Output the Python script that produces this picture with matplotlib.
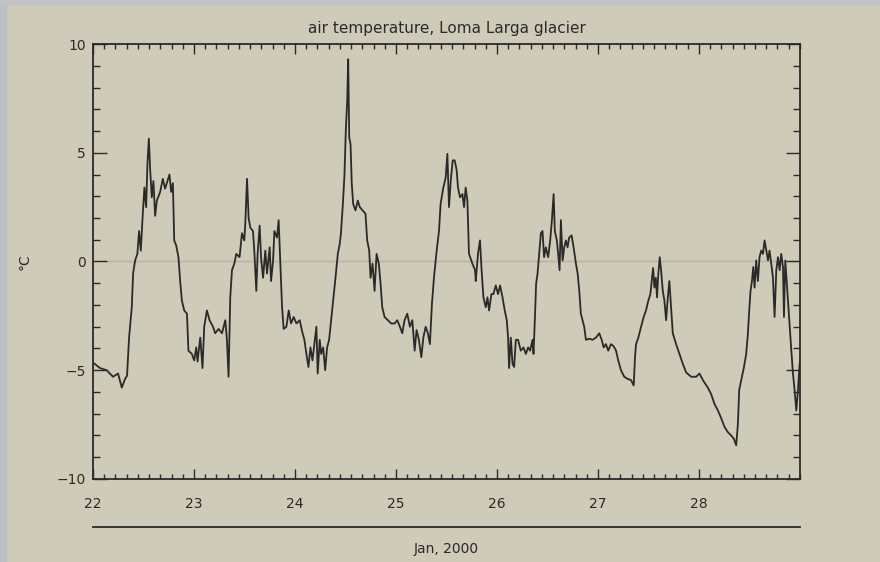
import matplotlib
matplotlib.use("Agg")
import matplotlib.pyplot as plt
from matplotlib.ticker import MultipleLocator
from matplotlib.patches import Rectangle

# air temperature record, day of January 2000 and deg C
day = [
    22.000, 22.069, 22.136, 22.198, 22.248, 22.285, 22.317, 22.337, 22.357, 22.384,
    22.397, 22.417, 22.439, 22.456, 22.473, 22.493, 22.509, 22.526, 22.539, 22.553,
    22.565, 22.582, 22.598, 22.615, 22.632, 22.665, 22.691, 22.714, 22.737, 22.757,
    22.774, 22.791, 22.804, 22.823, 22.846, 22.863, 22.880, 22.903, 22.930, 22.945,
    22.979, 23.002, 23.022, 23.035, 23.062, 23.084, 23.101, 23.128, 23.154, 23.188,
    23.210, 23.243, 23.277, 23.310, 23.326, 23.342, 23.359, 23.376, 23.399, 23.419,
    23.451, 23.475, 23.498, 23.508, 23.525, 23.541, 23.558, 23.584, 23.597, 23.617,
    23.630, 23.650, 23.664, 23.684, 23.706, 23.723, 23.749, 23.763, 23.783, 23.796,
    23.822, 23.838, 23.855, 23.872, 23.888, 23.915, 23.938, 23.961, 23.987, 24.014,
    24.047, 24.070, 24.093, 24.113, 24.133, 24.153, 24.173, 24.192, 24.212, 24.225,
    24.245, 24.259, 24.279, 24.299, 24.318, 24.338, 24.358, 24.378, 24.401, 24.424,
    24.443, 24.455, 24.475, 24.490, 24.503, 24.517, 24.527, 24.537, 24.550, 24.562,
    24.576, 24.599, 24.622, 24.642, 24.669, 24.698, 24.715, 24.735, 24.748, 24.768,
    24.788, 24.808, 24.830, 24.847, 24.864, 24.887, 24.920, 24.953, 24.986, 25.013,
    25.039, 25.062, 25.085, 25.112, 25.138, 25.162, 25.185, 25.204, 25.227, 25.251,
    25.271, 25.294, 25.316, 25.336, 25.356, 25.376, 25.403, 25.426, 25.442, 25.469,
    25.492, 25.509, 25.525, 25.542, 25.562, 25.581, 25.601, 25.614, 25.634, 25.658,
    25.674, 25.690, 25.707, 25.723, 25.757, 25.783, 25.790, 25.812, 25.832, 25.846,
    25.866, 25.889, 25.906, 25.922, 25.945, 25.965, 25.988, 26.011, 26.031, 26.055,
    26.077, 26.097, 26.110, 26.120, 26.137, 26.154, 26.170, 26.187, 26.209, 26.236,
    26.263, 26.286, 26.309, 26.328, 26.352, 26.362, 26.375, 26.388, 26.402, 26.418,
    26.435, 26.451, 26.467, 26.484, 26.507, 26.527, 26.544, 26.561, 26.573, 26.593,
    26.606, 26.620, 26.633, 26.650, 26.666, 26.683, 26.699, 26.715, 26.739, 26.759,
    26.782, 26.799, 26.815, 26.831, 26.848, 26.864, 26.881, 26.914, 26.947, 26.980,
    27.013, 27.037, 27.057, 27.079, 27.102, 27.129, 27.156, 27.179, 27.201, 27.228,
    27.261, 27.294, 27.327, 27.354, 27.367, 27.377, 27.400, 27.427, 27.453, 27.476,
    27.499, 27.519, 27.533, 27.546, 27.559, 27.573, 27.585, 27.598, 27.612, 27.625,
    27.642, 27.658, 27.675, 27.692, 27.707, 27.724, 27.741, 27.774, 27.807, 27.840,
    27.873, 27.923, 27.972, 28.005, 28.039, 28.088, 28.121, 28.154, 28.188, 28.220,
    28.253, 28.287, 28.319, 28.346, 28.369, 28.386, 28.399, 28.419, 28.446, 28.468,
    28.485, 28.498, 28.511, 28.525, 28.538, 28.551, 28.567, 28.584, 28.600, 28.617,
    28.634, 28.650, 28.667, 28.684, 28.699, 28.716, 28.733, 28.749, 28.766, 28.783,
    28.799, 28.815, 28.832, 28.842, 28.855, 28.875, 28.898, 28.915, 28.931, 28.947,
    28.964, 28.981, 28.997, 29.010,
]
temp = [
    -4.65, -4.90, -5.00, -5.30, -5.15, -5.80, -5.40, -5.25, -3.50, -2.10,
    -0.55, 0.05, 0.35, 1.40, 0.50, 2.20, 3.40, 2.50, 4.50, 5.65,
    4.30, 2.95, 3.70, 2.10, 2.80, 3.20, 3.80, 3.35, 3.70, 4.00,
    3.20, 3.60, 0.97, 0.75, 0.20, -0.90, -1.80, -2.25, -2.40, -4.10,
    -4.25, -4.55, -3.95, -4.60, -3.50, -4.90, -3.00, -2.25, -2.70, -3.00,
    -3.30, -3.10, -3.30, -2.70, -3.60, -5.30, -1.65, -0.40, -0.10, 0.35,
    0.20, 1.30, 0.97, 1.75, 3.80, 2.00, 1.55, 1.40, 0.50, -1.35,
    0.35, 1.65, 0.20, -0.75, 0.50, -0.55, 0.65, -0.90, 0.05, 1.40,
    1.10, 1.90, -0.10, -2.10, -3.10, -3.00, -2.25, -2.85, -2.55, -2.85,
    -2.70, -3.20, -3.60, -4.25, -4.85, -3.95, -4.55, -3.80, -3.00, -5.15,
    -3.60, -4.25, -3.95, -5.00, -3.95, -3.60, -2.70, -1.80, -0.75, 0.35,
    0.80, 1.30, 2.70, 4.00, 6.00, 7.40, 9.30, 5.70, 5.40, 3.60,
    2.65, 2.35, 2.80, 2.50, 2.35, 2.20, 0.97, 0.50, -0.75, -0.10,
    -1.35, 0.35, -0.10, -1.00, -2.10, -2.55, -2.70, -2.85, -2.85, -2.70,
    -3.00, -3.30, -2.70, -2.40, -3.00, -2.70, -4.10, -3.15, -3.60, -4.40,
    -3.50, -3.00, -3.30, -3.80, -1.95, -0.75, 0.50, 1.40, 2.65, 3.40,
    3.85, 4.95, 2.50, 3.70, 4.65, 4.65, 4.20, 3.40, 2.95, 3.10,
    2.50, 3.40, 2.80, 0.35, -0.10, -0.40, -0.90, 0.35, 0.97, -0.25,
    -1.65, -2.10, -1.65, -2.25, -1.50, -1.50, -1.10, -1.50, -1.10, -1.65,
    -2.25, -2.70, -3.50, -4.90, -3.50, -4.70, -4.85, -3.60, -3.60, -4.10,
    -3.95, -4.25, -3.95, -4.10, -3.60, -4.25, -2.70, -1.00, -0.55, 0.35,
    1.30, 1.40, 0.20, 0.65, 0.20, 0.97, 1.90, 3.10, 1.40, 0.97,
    0.35, -0.40, 1.90, 0.05, 0.65, 0.97, 0.65, 1.10, 1.20, 0.65,
    -0.10, -0.55, -1.35, -2.40, -2.70, -3.00, -3.60, -3.55, -3.60, -3.50,
    -3.30, -3.60, -3.95, -3.80, -4.10, -3.80, -3.90, -4.10, -4.55, -5.00,
    -5.30, -5.40, -5.45, -5.70, -4.40, -3.80, -3.50, -3.00, -2.55, -2.25,
    -1.80, -1.50, -0.90, -0.30, -1.20, -0.75, -1.65, -0.55, 0.20, -0.40,
    -1.35, -1.80, -2.70, -1.65, -0.90, -2.10, -3.30, -3.80, -4.25, -4.70,
    -5.10, -5.30, -5.30, -5.15, -5.45, -5.80, -6.10, -6.55, -6.85, -7.20,
    -7.60, -7.85, -8.00, -8.15, -8.45, -7.45, -5.90, -5.45, -4.85, -4.25,
    -3.30, -2.25, -1.35, -0.90, -0.25, -1.20, 0.05, -0.90, 0.20, 0.50,
    0.35, 0.97, 0.50, 0.05, 0.50, -0.10, -0.75, -2.55, -0.40, 0.20,
    -0.40, 0.35, -0.25, -2.55, 0.05, -1.35, -3.00, -4.10, -5.15, -5.90,
    -6.85, -5.90, -4.70, -4.40,
]

x_ticks = [22, 23, 24, 25, 26, 27, 28]
y_ticks = [-10, -5, 0, 5, 10]

paper = '#cecbb8'
ink = '#2a2a2a'

fig = plt.figure(figsize=(8.8, 5.62), dpi=100, facecolor=paper)

# bluish edge of the scanned sheet
fig.patches.append(Rectangle((0, 0), 0.007, 1, transform=fig.transFigure,
                             color='#b9bfc2', zorder=0))
fig.patches.append(Rectangle((0, 0.993), 1, 0.007, transform=fig.transFigure,
                             color='#c0c4c4', zorder=0))

ax = fig.add_axes([0.1057, 0.1477, 0.8033, 0.774])
ax.set_facecolor(paper)

# faint zero line
ax.axhline(0, color='#b9b19a', lw=1.0, zorder=1)
ax.plot(day, temp, color=ink, lw=1.3, zorder=2)

ax.set_xlim(22, 29)
ax.set_ylim(-10, 10)
ax.set_xticks(x_ticks)
ax.set_yticks(y_ticks)
ax.xaxis.set_minor_locator(MultipleLocator(1 / 9))
ax.yaxis.set_minor_locator(MultipleLocator(1))

ax.tick_params(axis='both', which='both', direction='in', colors=ink,
               top=True, right=True, labelsize=10)
ax.tick_params(axis='x', which='major', length=7, width=1.0, pad=13)
ax.tick_params(axis='x', which='minor', length=3.5, width=1.0)
ax.tick_params(axis='y', which='major', length=10, width=1.0, pad=5)
ax.tick_params(axis='y', which='minor', length=5, width=1.0)
ax.set_yticklabels(['\u221210', '\u22125', '0', '5', '10'])

for s in ax.spines.values():
    s.set_color(ink)
    s.set_linewidth(1.3)

ax.set_title('air temperature, Loma Larga glacier', fontsize=11, color=ink, pad=8)
ax.set_ylabel('\u00b0C', fontsize=10, color=ink, labelpad=18)

# date axis line and label under the ticks
ax.plot([0, 1], [-0.110, -0.110], transform=ax.transAxes, color=ink,
        lw=1.3, clip_on=False)
ax.text(0.5, -0.16, 'Jan, 2000', transform=ax.transAxes, ha='center',
        va='center', fontsize=10, color=ink)

fig.savefig('out.png', dpi=100, facecolor=paper)
